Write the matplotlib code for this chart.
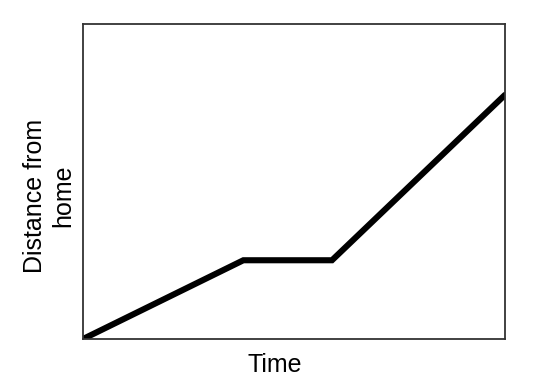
import matplotlib.pyplot as plt

# (axes run 0..10 on both sides)
time = [0, 3.8, 5.9, 10]
distance = [0, 2.5, 2.5, 7.75]

plt.rcParams['font.family'] = ['Liberation Sans', 'DejaVu Sans']

W, H = 534, 392
fig = plt.figure(figsize=(W / 100, H / 100), dpi=100)
ax = fig.add_axes([83 / W, 1 - 339 / H, 422 / W, 315 / H])

ax.plot(time, distance, color='black', linewidth=4.4, solid_capstyle='round', solid_joinstyle='miter')
ax.set_xlim(0, 10)
ax.set_ylim(0, 10)
ax.set_xticks([])
ax.set_yticks([])
for s in ax.spines.values():
    s.set_linewidth(1.3)
    s.set_color('#333333')

fig.text(274.5 / W, 1 - 365 / H, 'Time', ha='center', va='center', fontsize=18)
fig.text(49 / W, 1 - 196 / H, 'Distance from\nhome', ha='center', va='center',
         rotation=90, fontsize=18, multialignment='center', linespacing=1.25)

fig.savefig('out.png', dpi=100)
